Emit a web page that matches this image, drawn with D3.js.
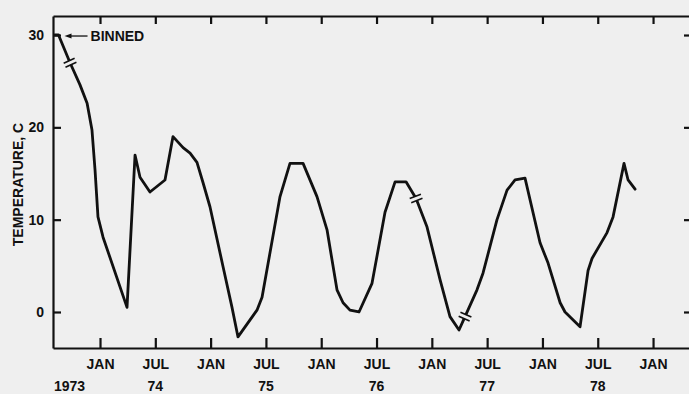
<!DOCTYPE html>
<html>
<head>
<meta charset="utf-8">
<script src="https://cdn.jsdelivr.net/npm/d3@7"></script>
<style>
  html, body { margin: 0; padding: 0; background: #efefef; }
  svg { display: block; }
  text { font-family: "Liberation Sans", Arial, Helvetica, sans-serif; font-weight: bold; fill: #111; }
</style>
</head>
<body>
<script>
// Monthly water temperature record, months counted from Jan 1973
const months = [7.1, 7.5, 8.75, 9.83, 10.6, 11.13, 11.46, 11.78, 12.33, 14.93,
  15.8, 16.34, 17.42, 19.05, 19.92, 21.01, 21.77, 22.52, 23.18, 23.93,
  25.35, 26.32, 26.97, 29.03, 29.58, 31.53, 32.61, 34.03, 35.54, 36.63,
  37.71, 38.37, 39.12, 40.1, 41.51, 42.92, 44.01, 45.2, 46.29, 47.48,
  48.89, 49.97, 50.95, 51.6, 52.9, 53.55, 55.07, 56.16, 57.03, 58.11,
  59.74, 60.61, 61.92, 62.45, 64.08, 64.95, 65.38, 67.01, 67.66, 68.85,
  69.29, 70.05];
const temps = [30.0, 30.0, 27.0, 24.6, 22.6, 19.7, 15.4, 10.3, 8.1, 0.5,
  17.0, 14.6, 13.0, 14.3, 19.0, 17.8, 17.2, 16.2, 14.0, 11.4,
  4.9, 0.5, -2.7, 0.2, 1.6, 12.5, 16.1, 16.1, 12.5, 8.9,
  2.4, 1.0, 0.2, 0.0, 3.1, 10.8, 14.1, 14.1, 12.3, 9.2,
  3.5, -0.5, -1.95, -0.5, 2.4, 4.2, 10.0, 13.2, 14.3, 14.5,
  7.5, 5.3, 1.0, 0.0, -1.6, 4.5, 5.8, 8.6, 10.3, 16.1,
  14.3, 13.3];

// Record breaks (gaps) along the curve
const breakMonths = [8.75, 46.29, 51.6];

// Axis ticks
const yTicks = [0, 10, 20, 30];
const xTicks = [12, 18, 24, 30, 36, 42, 48, 54, 60, 66, 72];
const xTickNames = ["JAN", "JUL"];
const yearMonths = [6, 18, 30, 42, 54, 66];
const yearLabels = ["1973", "74", "75", "76", "77", "78"];
const yTitle = "TEMPERATURE, C";
const binnedLabel = "BINNED";

const W = 689, H = 394;
const frame = { left: 53, right: 689, top: 16, bottom: 348 };

const svg = d3.select("body").append("svg").attr("width", W).attr("height", H);
svg.append("rect").attr("width", W).attr("height", H).attr("fill", "#efefef");

const x = d3.scaleLinear().domain([6.9, 75.9]).range([frame.left, frame.right]);
const y = d3.scaleLinear().domain([-3.9, 32.06]).range([frame.bottom, frame.top]);

const ink = "#111";

function styleAxis(g) {
  g.selectAll("path.domain").attr("stroke", ink).attr("stroke-width", 2.2);
  g.selectAll(".tick line").attr("stroke", ink).attr("stroke-width", 2.2);
  g.selectAll(".tick text").attr("font-size", 14).attr("fill", ink)
    .attr("font-family", "Liberation Sans, Arial, sans-serif").attr("font-weight", "bold");
}

// Left axis with values
svg.append("g").attr("transform", `translate(${frame.left},0)`)
  .call(d3.axisLeft(y).tickValues(yTicks).tickSizeInner(-8).tickSizeOuter(0).tickPadding(9))
  .call(styleAxis);

// Right-side ticks only
svg.append("g").attr("transform", `translate(${frame.right},0)`)
  .call(d3.axisRight(y).tickValues(yTicks).tickSizeInner(-5).tickSizeOuter(0).tickFormat(""))
  .call(g => g.select("path.domain").remove())
  .call(styleAxis);

// Top axis
svg.append("g").attr("transform", `translate(0,${frame.top})`)
  .call(d3.axisTop(x).tickValues(xTicks).tickSizeInner(-8).tickSizeOuter(0).tickFormat(""))
  .call(styleAxis);

// Bottom axis with month names
svg.append("g").attr("transform", `translate(0,${frame.bottom})`)
  .call(d3.axisBottom(x).tickValues(xTicks).tickSizeInner(-10).tickSizeOuter(0).tickPadding(11)
    .tickFormat(m => xTickNames[(m % 12) / 6]))
  .call(styleAxis);

// Year labels under the July ticks
svg.append("g").selectAll("text").data(yearLabels).join("text")
  .attr("x", (d, i) => i === 0 ? frame.left + 1 : x(yearMonths[i]))
  .attr("y", 391)
  .attr("text-anchor", (d, i) => i === 0 ? "start" : "middle")
  .attr("font-size", 14)
  .text(d => d);

// Y title
svg.append("text")
  .attr("transform", `translate(23,${(y(0) + y(30)) / 2 + 11}) rotate(-90)`)
  .attr("text-anchor", "middle")
  .attr("font-size", 14)
  .text(yTitle);

// Temperature curve
const pts = months.map((m, i) => [x(m), y(temps[i])]);
svg.append("path")
  .attr("d", d3.line()(pts))
  .attr("fill", "none").attr("stroke", ink).attr("stroke-width", 2.8)
  .attr("stroke-linejoin", "round").attr("stroke-linecap", "round");

// Break marks: two short strokes across the curve with a small gap
breakMonths.forEach(bm => {
  const i = d3.bisectRight(months, bm) - 1;
  const t = (bm - months[i]) / (months[i + 1] - months[i]);
  const px = x(bm);
  const py = y(temps[i] + t * (temps[i + 1] - temps[i]));
  const dx = x(months[i + 1]) - x(months[i]);
  const dy = y(temps[i + 1]) - y(temps[i]);
  const len = Math.hypot(dx, dy);
  const ux = dx / len, uy = dy / len;   // along curve
  const nx = -uy, ny = ux;              // across curve
  const g = svg.append("g");
  g.append("line")
    .attr("x1", px - ux * 2).attr("y1", py - uy * 2)
    .attr("x2", px + ux * 2).attr("y2", py + uy * 2)
    .attr("stroke", "#efefef").attr("stroke-width", 5);
  [-2.2, 2.2].forEach(o => {
    g.append("line")
      .attr("x1", px + ux * o - nx * 6).attr("y1", py + uy * o - ny * 6)
      .attr("x2", px + ux * o + nx * 6).attr("y2", py + uy * o + ny * 6)
      .attr("stroke", ink).attr("stroke-width", 1.6);
  });
});

// "BINNED" annotation: arrow pointing left at the first value
const tipX = x(months[1]) + 6, tipY = y(temps[1]) + 1;
svg.append("line")
  .attr("x1", tipX + 5).attr("y1", tipY).attr("x2", tipX + 23).attr("y2", tipY)
  .attr("stroke", ink).attr("stroke-width", 1.3);
svg.append("path")
  .attr("d", `M${tipX},${tipY} L${tipX + 7},${tipY - 2.5} L${tipX + 7},${tipY + 2.5} Z`)
  .attr("fill", ink);
svg.append("text")
  .attr("x", tipX + 26).attr("y", tipY + 5)
  .attr("font-size", 14)
  .text(binnedLabel);
</script>
</body>
</html>
